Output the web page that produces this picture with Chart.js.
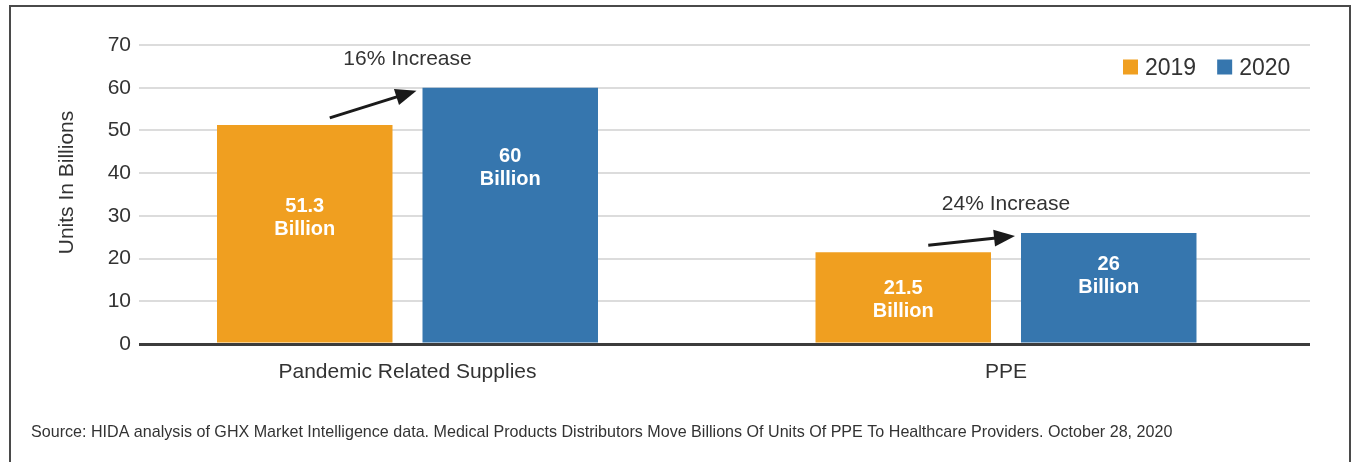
<!DOCTYPE html>
<html>
<head>
<meta charset="utf-8">
<script src="https://cdn.jsdelivr.net/npm/chart.js@4.4.1/dist/chart.umd.min.js"></script>
<style>
  html, body { margin: 0; padding: 0; background: #ffffff; }
  #wrap { width: 1353px; height: 462px; position: relative; }
</style>
</head>
<body>
<div id="wrap"><canvas id="chart"></canvas></div>
<script>
// ---- data ----
const categories = ['Pandemic Related Supplies', 'PPE'];
const seriesNames = ['2019', '2020'];
const values2019 = [51.3, 21.5];
const values2020 = [60, 26];
const increaseLabels = ['16% Increase', '24% Increase'];
const yTicks = [0, 10, 20, 30, 40, 50, 60, 70];
const unitWord = 'Billion';
const axisTitle = 'Units In Billions';
const sourceNote = 'Source: HIDA analysis of GHX Market Intelligence data. Medical Products Distributors Move Billions Of Units Of PPE To Healthcare Providers. October 28, 2020';

// ---- style ----
const ORANGE = '#F09F20';
const BLUE = '#3676AE';
const INK = '#333333';
const FONT = "'Liberation Sans', Arial, sans-serif";

const toPoints = vals => vals.map((v, i) => ({ x: i, y: v }));

function drawArrow(ctx, x1, y1, x2, y2) {
  const ang = Math.atan2(y2 - y1, x2 - x1);
  const headLen = 21, headHalf = 8.5;
  const bx = x2 - headLen * Math.cos(ang), by = y2 - headLen * Math.sin(ang);
  ctx.strokeStyle = '#1a1a1a';
  ctx.fillStyle = '#1a1a1a';
  ctx.lineWidth = 3;
  ctx.lineCap = 'butt';
  ctx.beginPath();
  ctx.moveTo(x1, y1);
  ctx.lineTo(bx + 2 * Math.cos(ang), by + 2 * Math.sin(ang));
  ctx.stroke();
  ctx.beginPath();
  ctx.moveTo(x2, y2);
  ctx.lineTo(bx + headHalf * Math.sin(ang), by - headHalf * Math.cos(ang));
  ctx.lineTo(bx - headHalf * Math.sin(ang), by + headHalf * Math.cos(ang));
  ctx.closePath();
  ctx.fill();
}

// Frame, axis title, source note, value labels, increase arrows and legend
const decorations = {
  id: 'decorations',
  beforeDraw(chart) {
    const { ctx, chartArea: a } = chart;
    ctx.save();
    ctx.strokeStyle = '#4a4a4a';
    ctx.lineWidth = 2;
    ctx.beginPath();
    ctx.moveTo(10, chart.height + 4);
    ctx.lineTo(10, 6);
    ctx.lineTo(chart.width - 3, 6);
    ctx.lineTo(chart.width - 3, chart.height + 4);
    ctx.stroke();

    ctx.fillStyle = INK;
    ctx.font = `16.1px ${FONT}`;
    ctx.textAlign = 'left';
    ctx.textBaseline = 'alphabetic';
    ctx.fillText(sourceNote, 31, 437);

    ctx.translate(a.left - 66, (a.top + a.bottom) / 2 - 12);
    ctx.rotate(-Math.PI / 2);
    ctx.font = `21px ${FONT}`;
    ctx.textAlign = 'center';
    ctx.fillText(axisTitle, 0, 0);
    ctx.restore();
  },
  afterDatasetsDraw(chart, args, opts) {
    const { ctx, chartArea: a } = chart;
    const metas = [chart.getDatasetMeta(0), chart.getDatasetMeta(1)];
    ctx.save();

    // value labels inside the bars
    ctx.fillStyle = '#ffffff';
    ctx.font = `bold 20px ${FONT}`;
    ctx.textAlign = 'center';
    ctx.textBaseline = 'alphabetic';
    metas.forEach((meta, d) => {
      const vals = chart.data.datasets[d].data;
      meta.data.forEach((bar, i) => {
        const p = bar.getProps(['x', 'y', 'base'], true);
        const c = p.y + opts.labelCenter[d][i] * (p.base - p.y);
        ctx.fillText(String(vals[i].y), p.x, c - 4.2);
        ctx.fillText(unitWord, p.x, c + 18.8);
      });
    });

    // growth arrows and captions
    increaseLabels.forEach((txt, i) => {
      const b0 = metas[0].data[i].getProps(['x', 'y', 'width'], true);
      const b1 = metas[1].data[i].getProps(['x', 'y', 'width'], true);
      drawArrow(ctx, b0.x + 25, b0.y - 7, b1.x - b1.width / 2 - 6, b1.y + 3);
      ctx.fillStyle = INK;
      ctx.font = `21px ${FONT}`;
      ctx.textAlign = 'center';
      ctx.fillText(txt, (b0.x + b1.x) / 2, b1.y - 22.7);
    });

    // legend
    ctx.font = `23px ${FONT}`;
    ctx.textAlign = 'left';
    let x = a.right - 187;
    chart.data.datasets.forEach(ds => {
      ctx.fillStyle = ds.backgroundColor;
      ctx.fillRect(x, a.top + 14.5, 15, 15);
      ctx.fillStyle = INK;
      ctx.fillText(ds.label, x + 22, a.top + 30);
      x += 22 + ctx.measureText(ds.label).width + 21;
    });
    ctx.restore();
  }
};

new Chart(document.getElementById('chart'), {
  type: 'bar',
  data: {
    datasets: [
      { label: seriesNames[0], data: toPoints(values2019), backgroundColor: ORANGE },
      { label: seriesNames[1], data: toPoints(values2020), backgroundColor: BLUE }
    ]
  },
  options: {
    responsive: true,
    maintainAspectRatio: false,
    animation: false,
    events: [],
    categoryPercentage: 0.6867,
    barPercentage: 0.854,
    layout: { padding: { top: 45, left: 10, right: 43, bottom: 0 } },
    plugins: {
      legend: { display: false },
      tooltip: { enabled: false },
      decorations: { labelCenter: [[0.42, 0.51], [0.31, 0.38]] }
    },
    scales: {
      x: {
        type: 'linear',
        bounds: 'data',
        offset: false,
        min: -0.44862,
        max: 1.50794,
        afterBuildTicks: s => { s.ticks = categories.map((_, i) => ({ value: i })); },
        afterFit: s => { s.height = 118; },
        grid: { display: false, drawTicks: false },
        border: { display: false },
        ticks: {
          autoSkip: false,
          maxRotation: 0,
          padding: 16,
          color: INK,
          font: { family: FONT, size: 21 },
          callback: v => categories[v]
        }
      },
      y: {
        min: 0,
        max: 70,
        afterBuildTicks: s => { s.ticks = yTicks.map(v => ({ value: v })); },
        afterFit: s => { s.width = 129; },
        border: { display: false },
        grid: {
          drawTicks: false,
          color: c => (c.tick && c.tick.value === 0 ? '#3c3c3c' : '#dcdcdc'),
          lineWidth: c => (c.tick && c.tick.value === 0 ? 3 : 2)
        },
        ticks: {
          padding: 8,
          color: INK,
          font: { family: FONT, size: 21 }
        }
      }
    }
  },
  plugins: [decorations]
});
</script>
</body>
</html>
